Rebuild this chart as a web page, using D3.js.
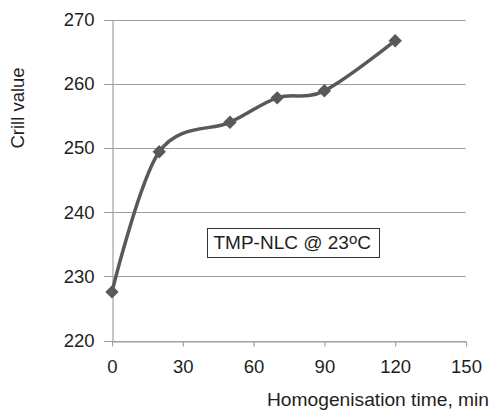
<!DOCTYPE html>
<html>
<head>
<meta charset="utf-8">
<script src="https://cdn.jsdelivr.net/npm/d3@7"></script>
<style>
  html, body { margin: 0; padding: 0; background: #fff; }
  svg { display: block; font-family: "Liberation Sans", Arial, sans-serif; }
</style>
</head>
<body>
<svg id="chart" width="493" height="412"></svg>
<script>
// Homogenisation time (min) and measured Crill value
const times = [0, 20, 50, 70, 90, 120];
const crill = [227.6, 249.4, 254.0, 257.8, 258.9, 266.7];
const xTicks = [0, 30, 60, 90, 120, 150];
const yTicks = [220, 230, 240, 250, 260, 270];

const svg = d3.select("#chart");
const plotLeft = 112, plotRight = 466, plotTop = 19.5, plotBottom = 340.7;

const x = d3.scaleLinear().domain([0, 150]).range([plotLeft, plotRight]);
const y = d3.scaleLinear().domain([220, 270]).range([plotBottom, plotTop]);

const textColor = "#1e1e1e";
const gridColor = "#a0a0a0";
const fontSize = 18.5;

// Horizontal gridlines (they also form the left tick marks)
svg.append("g")
  .selectAll("line")
  .data(yTicks)
  .join("line")
  .attr("x1", plotLeft - 8).attr("x2", plotRight)
  .attr("y1", d => Math.round(y(d)) + 0.5).attr("y2", d => Math.round(y(d)) + 0.5)
  .attr("stroke", gridColor).attr("stroke-width", 1.2);

// Y axis
const yAxis = d3.axisLeft(y).tickValues(yTicks).tickSize(0).tickPadding(18);
const gy = svg.append("g").attr("transform", `translate(${plotLeft + 0.5},0)`).call(yAxis);
gy.select(".domain").attr("stroke", gridColor).attr("stroke-width", 1.2);
gy.selectAll("text").attr("font-size", fontSize).attr("fill", textColor)
  .attr("font-family", "Liberation Sans, Arial, sans-serif");

// X axis
const xAxis = d3.axisBottom(x).tickValues(xTicks).tickSize(5).tickPadding(13).tickSizeOuter(0);
const gx = svg.append("g").attr("transform", `translate(0,${Math.round(plotBottom) + 0.5})`).call(xAxis);
gx.select(".domain").attr("stroke", gridColor).attr("stroke-width", 1.2);
gx.selectAll(".tick line").attr("stroke", gridColor).attr("stroke-width", 1.2);
gx.selectAll("text").attr("font-size", fontSize).attr("fill", textColor)
  .attr("font-family", "Liberation Sans, Arial, sans-serif");

// Smoothed series line
const pts = times.map((t, i) => [t, crill[i]]);
const line = d3.line()
  .x(d => x(d[0])).y(d => y(d[1]))
  .curve(d3.curveCardinal.tension(0));
svg.append("path")
  .datum(pts)
  .attr("d", line)
  .attr("fill", "none")
  .attr("stroke", "#595959")
  .attr("stroke-width", 3.5)
  .attr("stroke-linejoin", "round");

// Diamond markers
const diamond = d3.symbol().type(d3.symbolDiamond2).size(115);
svg.append("g")
  .selectAll("path")
  .data(pts)
  .join("path")
  .attr("transform", d => `translate(${x(d[0])},${y(d[1])})`)
  .attr("d", diamond)
  .attr("fill", "#595959");

// Axis titles
svg.append("text")
  .attr("transform", "translate(24,108) rotate(-90)")
  .attr("text-anchor", "middle")
  .attr("font-size", fontSize).attr("fill", textColor)
  .text("Crill value");

svg.append("text")
  .attr("x", 267).attr("y", 406)
  .attr("textLength", 222).attr("lengthAdjust", "spacingAndGlyphs")
  .attr("font-size", fontSize).attr("fill", textColor)
  .text("Homogenisation time, min");

// Annotation box
const box = svg.append("g");
box.append("rect")
  .attr("x", 207.5).attr("y", 228.5).attr("width", 172).attr("height", 29)
  .attr("fill", "#fff").attr("stroke", "#333").attr("stroke-width", 1);
const label = box.append("text")
  .attr("x", 213.5).attr("y", 249.3)
  .attr("font-size", 19).attr("fill", textColor);
label.append("tspan").text("TMP-NLC @ 23");
label.append("tspan").attr("font-size", 15).attr("dy", -5.3).text("o");
label.append("tspan").attr("dy", 5.3).text("C");
</script>
</body>
</html>
